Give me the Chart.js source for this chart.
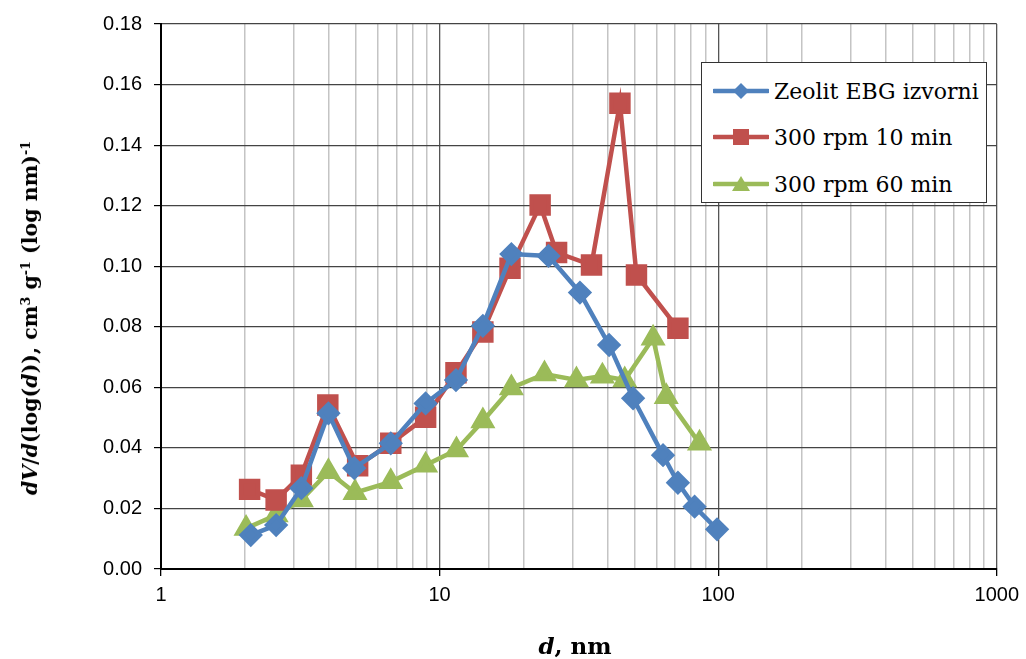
<!DOCTYPE html>
<html>
<head>
<meta charset="utf-8">
<script src="https://cdn.jsdelivr.net/npm/chart.js@4.4.0/dist/chart.umd.min.js"></script>
<style>
  body { margin: 0; background: #fff; }
  #wrap { position: relative; width: 1026px; height: 659px; }
  #ytitle {
    position: absolute; left: 30px; top: 318px;
    transform: translate(-50%, -50%) rotate(-90deg);
    white-space: nowrap;
    font: bold 20.5px "DejaVu Serif", serif; color: #000;
  }
  #xtitle {
    position: absolute; left: 575px; top: 645px;
    transform: translate(-50%, -50%);
    white-space: nowrap;
    font: bold 23px "DejaVu Serif", serif; color: #000;
  }
  sup { font-size: 0.62em; vertical-align: 0.55em; line-height: 0; }
  #legend {
    position: absolute; left: 701px; top: 62px; width: 286px; height: 141px;
    border: 1px solid #333; background: #fff; box-sizing: border-box;
    font: 22px "DejaVu Serif", serif; color: #000;
  }
  .row { position: absolute; left: 11px; height: 30px; display: flex; align-items: center; }
  .row svg { margin-right: 5px; }
</style>
</head>
<body>
<div id="wrap">
  <canvas id="myChart" width="1026" height="659"></canvas>
  <div id="ytitle"><i>dV</i>/<i>d</i>(log(<i>d</i>)), cm<sup>3</sup> g<sup>-1</sup> (log nm)<sup>-1</sup></div>
  <div id="xtitle"><i>d</i>, nm</div>
  <div id="legend">
    <div class="row" style="top:13px">
      <svg width="56" height="20"><line x1="1" y1="10" x2="55" y2="10" stroke="#4F81BD" stroke-width="4.5" stroke-linecap="round"/><polygon points="28,2 36,10 28,18 20,10" fill="#4F81BD"/></svg>
      <span>Zeolit EBG izvorni</span>
    </div>
    <div class="row" style="top:59px">
      <svg width="56" height="20"><line x1="1" y1="10" x2="55" y2="10" stroke="#C0504D" stroke-width="4.5" stroke-linecap="round"/><rect x="20" y="2" width="16" height="16" fill="#C0504D"/></svg>
      <span>300 rpm 10 min</span>
    </div>
    <div class="row" style="top:106px">
      <svg width="56" height="20"><line x1="1" y1="10" x2="55" y2="10" stroke="#9BBB59" stroke-width="4.5" stroke-linecap="round"/><polygon points="28,2 37,17 19,17" fill="#9BBB59"/></svg>
      <span>300 rpm 60 min</span>
    </div>
  </div>
</div>
<script>
// pore diameters (nm) and dV/dlog(d) values
const dZeolit = [2.10, 2.59, 3.19, 3.99, 4.94, 6.68, 8.91, 11.45, 14.3, 18.1, 24.6, 31.9, 40.6, 49.5, 63.4, 71.7, 82.3, 99.1];
const vZeolit = [0.0112, 0.0145, 0.0267, 0.0514, 0.0333, 0.0415, 0.0547, 0.0624, 0.0803, 0.1040, 0.1034, 0.0913, 0.0740, 0.0564, 0.0376, 0.0285, 0.0206, 0.0131];

const d10min = [2.08, 2.59, 3.19, 3.97, 5.08, 6.68, 8.91, 11.45, 14.3, 17.9, 22.96, 26.3, 35.1, 44.4, 50.9, 71.7];
const v10min = [0.0263, 0.0228, 0.0310, 0.0542, 0.0341, 0.0415, 0.0501, 0.0648, 0.0783, 0.0993, 0.1202, 0.1045, 0.1004, 0.1538, 0.0971, 0.0795];

const d60min = [2.02, 2.59, 3.19, 3.99, 4.97, 6.68, 8.91, 11.5, 14.3, 18.1, 23.8, 31.0, 38.4, 46.2, 58.4, 65.1, 85.7];
const v60min = [0.0134, 0.0178, 0.0228, 0.0321, 0.0252, 0.0288, 0.0343, 0.0393, 0.0489, 0.0598, 0.0644, 0.0624, 0.0637, 0.0624, 0.0762, 0.0569, 0.0415];

const seriesNames = ['Zeolit EBG izvorni', '300 rpm 10 min', '300 rpm 60 min'];
const xMajor = [1, 10, 100, 1000];

function pts(xs, ys) {
  return xs.map(function (x, i) { return { x: x, y: ys[i] }; });
}
function isMajor(v) {
  return xMajor.indexOf(Math.round(v * 1000) / 1000) !== -1;
}

const tickFont = { family: '"Liberation Sans", Arial, sans-serif', size: 20 };

const data = {
  datasets: [{
    label: seriesNames[0],
    data: pts(dZeolit, vZeolit),
    borderColor: '#4F81BD',
    backgroundColor: '#4F81BD',
    pointStyle: 'rectRot',
    pointRadius: 9,
    borderWidth: 4.5
  }, {
    label: seriesNames[1],
    data: pts(d10min, v10min),
    borderColor: '#C0504D',
    backgroundColor: '#C0504D',
    pointStyle: 'rect',
    pointRadius: 12,
    borderWidth: 4.5
  }, {
    label: seriesNames[2],
    data: pts(d60min, v60min),
    borderColor: '#9BBB59',
    backgroundColor: '#9BBB59',
    pointStyle: 'triangle',
    pointRadius: 10,
    borderWidth: 4.5
  }]
};

const config = {
  type: 'scatter',
  data: data,
  options: {
    responsive: false,
    animation: false,
    showLine: true,
    elements: {
      line: { tension: 0 },
      point: { borderWidth: 0, hoverRadius: 10 }
    },
    layout: { padding: { left: 0, right: 26, top: 24, bottom: 0 } },
    plugins: {
      legend: { display: false },
      tooltip: { enabled: false }
    },
    scales: {
      x: {
        type: 'logarithmic',
        min: 1,
        max: 1000,
        afterFit: function (scale) { scale.height = 90; },
        border: { color: '#000', width: 2 },
        grid: {
          color: function (ctx) { return isMajor(ctx.tick.value) ? '#555' : '#c4c4c4'; },
          lineWidth: function (ctx) { return isMajor(ctx.tick.value) ? 1.3 : 1.5; },
          tickColor: function (ctx) { return isMajor(ctx.tick.value) ? '#000' : 'rgba(0,0,0,0)'; },
          tickLength: 7
        },
        ticks: {
          autoSkip: false,
          maxRotation: 0,
          color: '#000',
          font: tickFont,
          padding: 7,
          callback: function (v) { return isMajor(v) ? String(v) : ''; }
        }
      },
      y: {
        min: 0,
        max: 0.18,
        afterFit: function (scale) { scale.width = 161; },
        border: { color: '#000', width: 2 },
        grid: { color: '#444', lineWidth: 1.2, tickColor: '#000', tickLength: 7 },
        ticks: {
          stepSize: 0.02,
          color: '#000',
          font: tickFont,
          padding: 12,
          callback: function (v) { return v.toFixed(2); }
        }
      }
    }
  }
};

const myChart = new Chart(document.getElementById('myChart'), config);
</script>
</body>
</html>
